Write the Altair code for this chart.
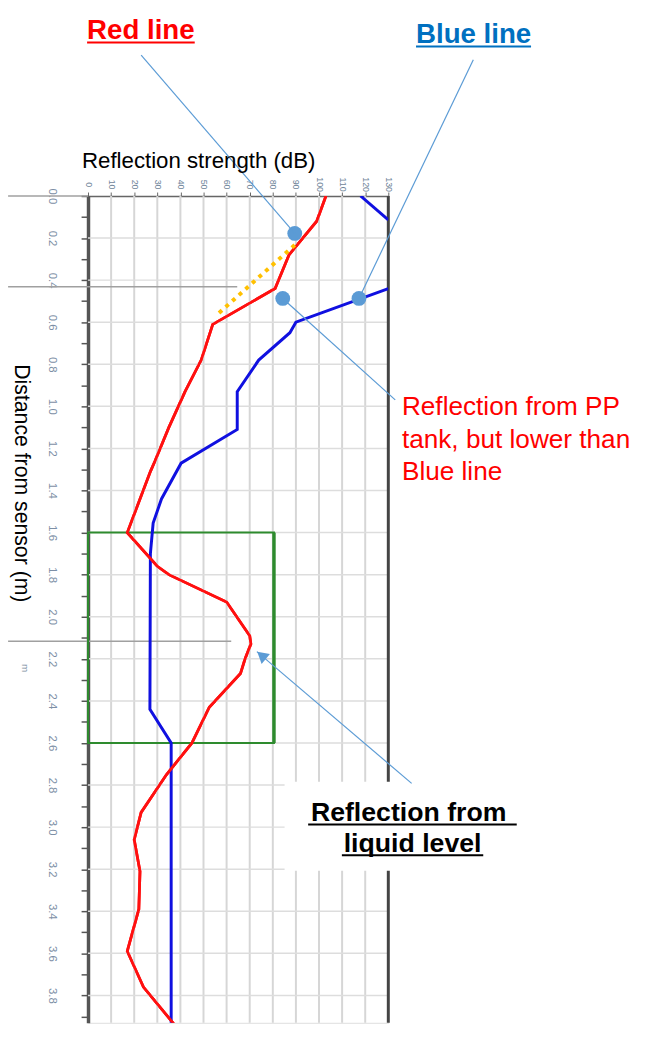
import altair as alt
import pandas as pd

# ---------------- data ----------------
db_ticks = [0, 10, 20, 30, 40, 50, 60, 70, 80, 90, 100, 110, 120, 130]
dist_ticks = [0.0, 0.1, 0.2, 0.3, 0.4, 0.5, 0.6, 0.7, 0.8, 0.9, 1.0, 1.1, 1.2, 1.3,
              1.4, 1.5, 1.6, 1.7, 1.8, 1.9, 2.0, 2.1, 2.2, 2.3, 2.4, 2.5, 2.6, 2.7,
              2.8, 2.9, 3.0, 3.1, 3.2, 3.3, 3.4, 3.5, 3.6, 3.7, 3.8, 3.9]
grid_db = [10, 20, 30, 40, 50, 60, 70, 80, 90, 100, 110, 120]
grid_dist = [0.2, 0.4, 0.6, 0.8, 1.0, 1.2, 1.4, 1.6, 1.8, 2.0, 2.2, 2.4, 2.6,
             2.8, 3.0, 3.2, 3.4, 3.6, 3.8]

# red line (distance m, reflection dB)
red_dist = [0.00, 0.12, 0.28, 0.44, 0.61, 0.78, 0.93, 1.10, 1.26, 1.31, 1.60,
            1.76, 1.80, 1.93, 2.09, 2.13, 2.20, 2.27, 2.43, 2.60, 2.75, 2.93,
            3.06, 3.21, 3.39, 3.59, 3.76, 4.00]
red_db = [103, 99, 87, 81, 54, 49, 42, 35, 29, 27, 17,
          30, 35, 60, 70, 70.5, 68, 66, 52.5, 45, 34, 23,
          20, 22.5, 22, 17, 24, 42]

# blue line (two visible pieces, it leaves the 130 dB frame in between)
blue_dist = [0.00, 0.113, 0.44, 0.60, 0.65, 0.78, 0.93, 1.11, 1.27, 1.44,
             1.555, 1.70, 2.44, 2.60, 4.00]
blue_db = [118, 130, 130, 90, 87.4, 73.9, 64.6, 64.6, 40.3, 31.8,
           28.2, 27, 26.8, 36, 36]
blue_seg = ["a", "a", "b", "b", "b", "b", "b", "b", "b", "b",
            "b", "b", "b", "b", "b"]

# green box (liquid level window)
box_db = [0, 80.5]
box_dist = [1.6, 2.6]

# orange dotted trend
orange_db = [89.5, 55.3]
orange_dist = [0.233, 0.57]

# annotation dots
dot_db = [89.5, 84.3, 117.3]
dot_dist = [0.178, 0.487, 0.487]

# annotation leader lines
ann_db1 = [23.0, 166.8, 84.3, 140.1]
ann_dist1 = [-0.670, -0.648, 0.487, 2.792]
ann_db2 = [89.5, 117.3, 133.0, 73.1]
ann_dist2 = [0.178, 0.487, 0.969, 2.166]
arrow_db = [75.1]
arrow_dist = [2.184]

# gray guide lines from the slide
guide_dist = [0.0, 0.432, 2.117]
guide_db1 = [-34.6, -34.6, -34.6]
guide_db2 = [0.0, 64.6, 62.0]

# texts
red_title = ["Red line"]
blue_title = ["Blue line"]
pp_lines = ["Reflection from PP", "tank, but lower than", "Blue line"]
pp_dist = [1.039, 1.196, 1.352]
liq_lines = ["Reflection from", "liquid level"]
liq_db = [138.8, 140.5]
liq_dist = [2.972, 3.117]

# underlines
ul_db1 = [-0.4, 142.0, 95.3, 109.9]
ul_db2 = [46.2, 191.8, 185.6, 171.1]
ul_dist = [-0.730, -0.710, 2.988, 3.134]
ul_color = ["#FF0000", "#0070C0", "#000000", "#000000"]

# white box behind the liquid-level label
wbox_db = [85.1, 188.6]
wbox_dist = [2.784, 3.207]

# ---------------- scales / axes ----------------
XS = alt.Scale(domain=[0, 130], nice=False, zero=False)
YS = alt.Scale(domain=[0, 3.93], nice=False, zero=False, reverse=True)

FONT = "Liberation Sans"

x_axis = alt.Axis(orient="top", values=db_ticks, labelAngle=90, labelAlign="center",
                  labelBaseline="middle", labelFontSize=9, labelColor="#6f8499",
                  labelPadding=8, tickSize=4, tickColor="#666666", domainColor="#666666",
                  domainWidth=1.5, grid=False, title=None, labelFlush=False,
                  labelOverlap=False, labelFont=FONT)
y_axis = alt.Axis(orient="left", values=dist_ticks,
                  labelExpr="round(datum.value*10) % 2 == 0 ? format(datum.value, '.1f') : ''",
                  labelAngle=90, labelAlign="center", labelBaseline="middle",
                  labelFontSize=11.5, labelColor="#7d8fa6", labelPadding=30,
                  tickSize=7, tickColor="#555555", tickWidth=1.5,
                  domainColor="#555555", domainWidth=3.5, grid=False, title=None,
                  labelFlush=False, labelOverlap=False, labelFont=FONT)


def X(f):
    return alt.X(f, type="quantitative", scale=XS, axis=x_axis)


def Y(f):
    return alt.Y(f, type="quantitative", scale=YS, axis=y_axis)


red_df = pd.DataFrame({"dist": red_dist, "db": red_db})
blue_df = pd.DataFrame({"dist": blue_dist, "db": blue_db, "seg": blue_seg})

grid_v = alt.Chart(pd.DataFrame({"db": grid_db})).mark_rule(
    color="#d6d6d6", strokeWidth=2).encode(x=X("db"))
grid_h = alt.Chart(pd.DataFrame({"dist": grid_dist})).mark_rule(
    color="#dddddd", strokeWidth=1.5).encode(y=Y("dist"))

right_border = alt.Chart(pd.DataFrame({"db": [130]})).mark_rule(
    color="#444444", strokeWidth=3).encode(x=X("db"))

guides = alt.Chart(pd.DataFrame({"d": guide_dist, "a": guide_db1, "b": guide_db2})).mark_rule(
    color="#a0a0a0", strokeWidth=1.5).encode(x=X("a"), x2="b", y=Y("d"))

box_df = pd.DataFrame({"a": [box_db[0]], "b": [box_db[1]],
                       "c": [box_dist[0]], "d": [box_dist[1]]})
green = alt.Chart(box_df).mark_rect(
    fill="transparent", stroke="#2e8b2e", strokeWidth=2).encode(
    x=X("a"), x2="b", y=Y("c"), y2="d")
green_right = alt.Chart(box_df).mark_rule(
    color="#2e8b2e", strokeWidth=3.5).encode(x=X("b"), y=Y("c"), y2="d")

red = alt.Chart(red_df).mark_line(color="#FF1010", strokeWidth=2.8, clip=True).encode(
    x=X("db"), y=Y("dist"), order=alt.Order("dist:Q"))

blue = alt.Chart(blue_df).mark_line(color="#1010E0", strokeWidth=3, clip=True).encode(
    x=X("db"), y=Y("dist"), detail="seg:N", order=alt.Order("dist:Q"))

orange = alt.Chart(pd.DataFrame({"db": orange_db, "dist": orange_dist})).mark_line(
    color="#FFC000", strokeWidth=4, strokeDash=[4, 5]).encode(
    x=X("db"), y=Y("dist"), order=alt.Order("dist:Q"))

wbox = alt.Chart(pd.DataFrame({"a": [wbox_db[0]], "b": [wbox_db[1]],
                               "c": [wbox_dist[0]], "d": [wbox_dist[1]]})).mark_rect(
    fill="white").encode(x=X("a"), x2="b", y=Y("c"), y2="d")

ann = alt.Chart(pd.DataFrame({"a": ann_db1, "b": ann_db2, "c": ann_dist1, "d": ann_dist2})).mark_rule(
    color="#5B9BD5", strokeWidth=1.2).encode(x=X("a"), x2="b", y=Y("c"), y2="d")

arrow = alt.Chart(pd.DataFrame({"db": arrow_db, "dist": arrow_dist})).mark_point(
    shape="triangle-up", filled=True, color="#5B9BD5", opacity=1, size=170, angle=310).encode(
    x=X("db"), y=Y("dist"))

dots = alt.Chart(pd.DataFrame({"db": dot_db, "dist": dot_dist})).mark_circle(
    color="#5B9BD5", opacity=1, size=225).encode(x=X("db"), y=Y("dist"))

t_red = alt.Chart(pd.DataFrame({"t": red_title, "db": [-0.4], "dist": [-0.746]})).mark_text(
    font=FONT, fontSize=28, fontWeight="bold", color="#FF0000", align="left",
    baseline="alphabetic").encode(x=X("db"), y=Y("dist"), text="t")

t_blue = alt.Chart(pd.DataFrame({"t": blue_title, "db": [142.0], "dist": [-0.726]})).mark_text(
    font=FONT, fontSize=28, fontWeight="bold", color="#0070C0", align="left",
    baseline="alphabetic").encode(x=X("db"), y=Y("dist"), text="t")

t_pp = alt.Chart(pd.DataFrame({"t": pp_lines, "db": [135.9] * 3, "dist": pp_dist})).mark_text(
    font=FONT, fontSize=26.5, color="#FF0000", align="left",
    baseline="alphabetic").encode(x=X("db"), y=Y("dist"), text="t")

t_liq = alt.Chart(pd.DataFrame({"t": liq_lines, "db": liq_db, "dist": liq_dist})).mark_text(
    font=FONT, fontSize=27, fontWeight="bold", color="#000000", align="center",
    baseline="alphabetic").encode(x=X("db"), y=Y("dist"), text="t")

t_xtitle = alt.Chart(pd.DataFrame({"t": ["Reflection strength (dB)"], "db": [-2.6],
                                   "dist": [-0.131]})).mark_text(
    font=FONT, fontSize=22.5, color="#000000", align="left",
    baseline="alphabetic").encode(x=X("db"), y=Y("dist"), text="t")

t_ytitle = alt.Chart(pd.DataFrame({"t": ["Distance from sensor (m)"], "db": [-29.2],
                                   "dist": [1.366]})).mark_text(
    font=FONT, fontSize=21.5, color="#000000", align="center", baseline="middle",
    angle=90).encode(x=X("db"), y=Y("dist"), text="t")

t_m = alt.Chart(pd.DataFrame({"t": ["m"], "db": [-27.4], "dist": [2.244]})).mark_text(
    font=FONT, fontSize=10, color="#7a8ca0", align="center", baseline="middle",
    angle=90).encode(x=X("db"), y=Y("dist"), text="t")

underl = alt.Chart(pd.DataFrame({"a": ul_db1, "b": ul_db2, "d": ul_dist, "c": ul_color})).mark_rule(
    strokeWidth=2).encode(x=X("a"), x2="b", y=Y("d"), color=alt.Color("c:N", scale=None))

chart = alt.layer(
    red, grid_v, grid_h, right_border, guides, green, green_right, blue, red, orange, wbox,
    dots, ann, arrow, t_red, t_blue, t_pp, t_liq, t_xtitle, t_ytitle, t_m, underl
).properties(
    width=304, height=837,
    autosize=alt.AutoSizeParams(type="none"),
    padding={"left": 81, "top": 184, "right": 271, "bottom": 0},
    background="white",
).configure_view(stroke=None).configure(font=FONT)

chart.save("out.html", embed_options={"renderer": "svg", "actions": False})
